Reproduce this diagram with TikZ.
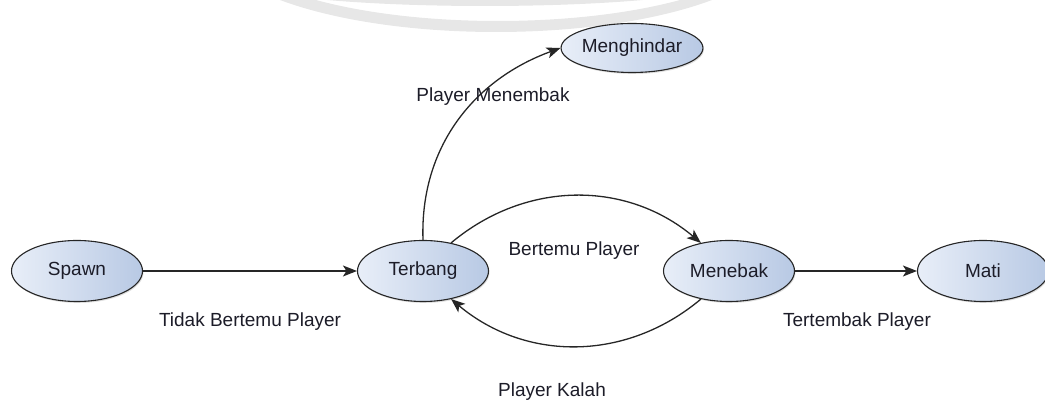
\documentclass[tikz,border=0pt]{standalone}
\usepackage{fontspec}
\setmainfont{Liberation Sans}
\usetikzlibrary{arrows.meta,shadows,shapes.geometric}
\definecolor{nodeL}{RGB}{232,238,248}
\definecolor{nodeR}{RGB}{184,201,228}
\definecolor{wm}{RGB}{231,231,231}
\definecolor{txt}{RGB}{28,28,40}
\begin{document}
\begin{tikzpicture}[x=1pt,y=1pt,
  state/.style={ellipse, draw=black!85, line width=1.1pt, left color=nodeL, right color=nodeR,
    minimum width=131pt, minimum height=61pt, inner sep=0pt,
    font=\fontsize{19}{22}\selectfont, text=txt,
    drop shadow={shadow xshift=1pt, shadow yshift=-1.5pt, opacity=0.25}},
  lbl/.style={font=\fontsize{19}{22}\selectfont, text=txt, inner sep=0pt},
  conn/.style={draw=black!85, line width=1.3pt, -{Stealth[length=14pt,width=11pt,inset=3.5pt]}}]
\useasboundingbox (0,0) rectangle (1045,403);
% faint watermark rings
\begin{scope}
  \clip (0,0) rectangle (1045,403);
  \fill[wm, even odd rule] (496,463) ellipse [x radius=285, y radius=92]
                           (498,463) ellipse [x radius=271, y radius=81];
  \fill[wm] (485,423) ellipse [x radius=247, y radius=26];
\end{scope}
% states
\node[state] (spawn) at (77,132) {Spawn};
\node[state] (terbang) at (423,132) {Terbang};
\node[state] (menebak) at (729,132) {Menebak};
\node[state] (mati) at (983,132) {Mati};
\node[state, minimum height=49pt] (menghindar) at (632,355) {Menghindar};
% connectors
\draw[conn] (spawn) -- (terbang);
\draw[conn] (terbang.north) to[out=92,in=200] (menghindar.west);
\draw[conn] (terbang.45) to[out=40,in=140] (menebak.135);
\draw[conn] (menebak.225) to[out=220,in=320] (terbang.-45);
\draw[conn] (menebak) -- (mati);
% labels
\node[lbl] (l1) at (250,81) {Tidak Bertemu Player};
\node[lbl] (l2) at (493,306) {Player Menembak};
\node[lbl] (l3) at (574,152) {Bertemu Player};
\node[lbl] (l4) at (552,11) {Player Kalah};
\node[lbl] (l5) at (857,81) {Tertembak Player};
\end{tikzpicture}
\end{document}
